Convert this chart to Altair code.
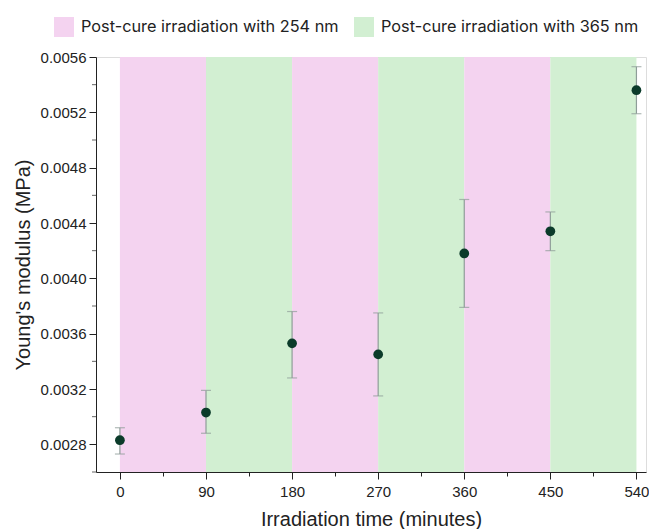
import altair as alt
import pandas as pd

# Measurements: irradiation time (min), Young's modulus (MPa) and error bounds
times = [0, 90, 180, 270, 360, 450, 540]
modulus = [0.00283, 0.00303, 0.00353, 0.00345, 0.00418, 0.00434, 0.00536]
err_low = [0.00273, 0.00288, 0.00328, 0.00315, 0.00379, 0.00420, 0.00519]
err_high = [0.00292, 0.00319, 0.00376, 0.00375, 0.00457, 0.00448, 0.00553]

# Alternating post-cure irradiation periods
band_start = [0, 90, 180, 270, 360, 450]
band_end = [90, 180, 270, 360, 450, 540]
band_kind = [
    "Post-cure irradiation with 254 nm",
    "Post-cure irradiation with 365 nm",
    "Post-cure irradiation with 254 nm",
    "Post-cure irradiation with 365 nm",
    "Post-cure irradiation with 254 nm",
    "Post-cure irradiation with 365 nm",
]
kinds = ["Post-cure irradiation with 254 nm", "Post-cure irradiation with 365 nm"]
kind_colors = ["#f4d3f0", "#d2efd2"]

# Axis ticks
x_ticks = list(range(0, 541, 45))
y_major_ticks = [0.0028, 0.0032, 0.0036, 0.0040, 0.0044, 0.0048, 0.0052, 0.0056]
y_minor_ticks = [0.0026, 0.0030, 0.0034, 0.0038, 0.0042, 0.0046, 0.0050, 0.0054]
x_min, x_max = -25, 550
y_min, y_max = 0.0026, 0.0056

pts = pd.DataFrame({"t": times, "E": modulus, "lo": err_low, "hi": err_high})
bands = pd.DataFrame({"start": band_start, "end": band_end, "kind": band_kind})
minor = pd.DataFrame({"v": y_minor_ticks, "x": [x_min] * len(y_minor_ticks)})

axis_font = "Liberation Sans"
ink = "#222222"
err_color = "#8e9d98"

x_scale = alt.Scale(domain=[x_min, x_max], nice=False, zero=False)
y_scale = alt.Scale(domain=[y_min, y_max], nice=False, zero=False)

x_major = "datum.value % 90 == 0"

x_axis = alt.Axis(
    title="Irradiation time (minutes)",
    values=x_ticks,
    labelExpr=f"{x_major} ? datum.value : ''",
    tickSize={"condition": {"test": x_major, "value": 7}, "value": 4},
    grid=False,
    domainColor=ink,
    tickColor=ink,
    labelColor=ink,
    titleColor=ink,
    labelFont=axis_font,
    titleFont=axis_font,
    labelFontSize=15,
    titleFontSize=20,
    titleFontWeight="normal",
    labelPadding=5,
    titlePadding=10,
)
y_axis = alt.Axis(
    title="Young's modulus (MPa)",
    values=y_major_ticks,
    format=".4f",
    tickSize=7,
    grid=False,
    domainColor=ink,
    tickColor=ink,
    labelColor=ink,
    titleColor=ink,
    labelFont=axis_font,
    titleFont=axis_font,
    labelFontSize=15,
    titleFontSize=20,
    titleFontWeight="normal",
    labelPadding=3,
    titlePadding=7,
)

band_layer = alt.Chart(bands).mark_rect().encode(
    x=alt.X("start:Q", scale=x_scale, axis=x_axis),
    x2="end:Q",
    y=alt.datum(y_max, scale=y_scale, axis=y_axis),
    y2=alt.datum(y_min),
    color=alt.Color(
        "kind:N",
        scale=alt.Scale(domain=kinds, range=kind_colors),
        legend=alt.Legend(
            title=None,
            orient="none",
            legendX=-42,
            legendY=-40,
            direction="horizontal",
            symbolType="square",
            symbolSize=400,
            symbolStrokeWidth=0,
            symbolOpacity=1,
            labelFont="Inter",
            labelFontSize=16.3,
            labelColor=ink,
            labelOffset=7,
            columnPadding=15,
            labelLimit=400,
        ),
    ),
)

# Short minor ticks on the left of the y axis line
minor_layer = alt.Chart(minor).mark_tick(
    color=ink, orient="horizontal", size=4, thickness=1, xOffset=-2, clip=False
).encode(
    x=alt.X("x:Q", scale=x_scale),
    y=alt.Y("v:Q", scale=y_scale),
)

base = alt.Chart(pts)

err_rule = base.mark_rule(color=err_color, strokeWidth=1.2).encode(
    x=alt.X("t:Q", scale=x_scale),
    y=alt.Y("lo:Q", scale=y_scale),
    y2="hi:Q",
)
cap_lo = base.mark_tick(color=err_color, orient="horizontal", size=10, thickness=1.2).encode(
    x=alt.X("t:Q", scale=x_scale),
    y=alt.Y("lo:Q", scale=y_scale),
)
cap_hi = base.mark_tick(color=err_color, orient="horizontal", size=10, thickness=1.2).encode(
    x=alt.X("t:Q", scale=x_scale),
    y=alt.Y("hi:Q", scale=y_scale),
)
dots = base.mark_circle(color="#0b3b2a", opacity=1, size=95).encode(
    x=alt.X("t:Q", scale=x_scale),
    y=alt.Y("E:Q", scale=y_scale),
)

chart = alt.layer(band_layer, minor_layer, err_rule, cap_lo, cap_hi, dots).properties(
    width=550,
    height=415,
    autosize=alt.AutoSizeParams(type="none"),
    padding={"left": 96, "top": 57, "right": 3, "bottom": 57},
).configure_view(stroke=None).configure(background="white")

chart.save("out.html", embed_options={"renderer": "svg", "actions": False})
